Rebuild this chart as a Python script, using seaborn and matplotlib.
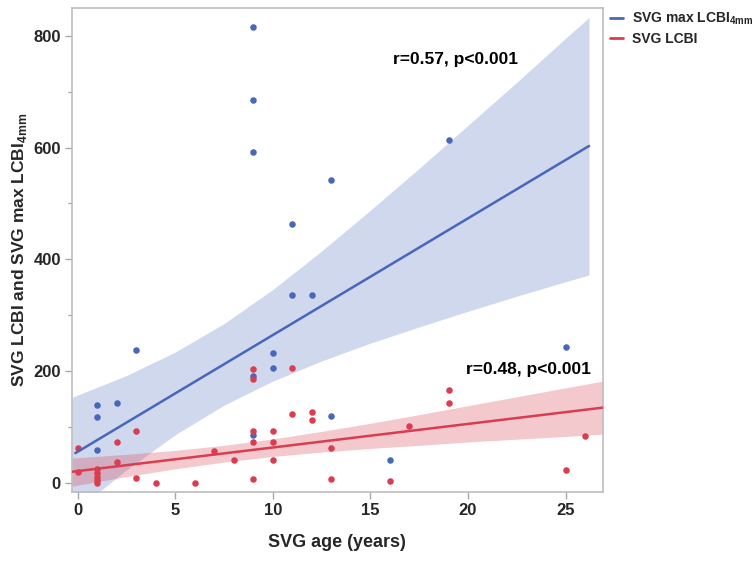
import numpy as np
import pandas as pd
import matplotlib
matplotlib.use("Agg")
import matplotlib.pyplot as plt
from matplotlib.ticker import MultipleLocator
from matplotlib.lines import Line2D
import seaborn as sns

# ---------------- data ----------------
blue_age = [9, 9, 9, 19, 13, 11, 11, 12, 3, 10, 10, 9, 25, 1, 1, 2, 1, 13, 9, 16]
blue_val = [816, 685, 592, 614, 542, 463, 337, 336, 238, 232, 206, 191, 243, 140, 117, 143, 59, 120, 85, 41]

red_age = [0, 0, 1, 1, 1, 1, 1, 2, 2, 3, 3, 4, 6, 7, 8,
           9, 9, 9, 9, 9, 10, 10, 10, 11, 11, 12, 12, 13, 13,
           16, 17, 19, 19, 25, 26]
red_val = [63, 20, 25, 17, 11, 5, 0, 73, 37, 93, 8, 0, 0, 57, 41,
           203, 186, 93, 73, 6, 93, 73, 41, 205, 123, 127, 113, 63, 6,
           4, 101, 166, 143, 23, 83]

# fitted lines (read at their ends)
blue_fit_x = [-0.12, 26.2]
blue_fit_y = [53, 603]
red_fit_x = [-0.29, 26.9]
red_fit_y = [19.7, 134.5]

# confidence bands (read at several ages)
blue_band_x = [-0.29, 2.5, 5, 7.5, 10, 12.5, 15, 17.5, 20, 22.5, 25, 26.2]
blue_band_lo = [-55, 23, 86, 139, 182, 218, 250, 279, 307, 334, 360, 372]
blue_band_hi = [153, 192, 234, 285, 346, 415, 488, 563, 640, 717, 796, 833]

red_band_x = [-0.29, 2.5, 5, 7.5, 10, 12.5, 15, 17.5, 20, 22.5, 25, 26.9]
red_band_lo = [-6, 11, 25, 37, 47, 55, 61.5, 67, 73, 78, 83, 87]
red_band_hi = [44, 51, 58, 67, 78.5, 92, 106.5, 122, 138, 154, 170, 182]

annot_texts = ["r=0.57, p<0.001", "r=0.48, p<0.001"]
annot_x = [16.15, 19.9]
annot_y = [757, 203]

series_names = ["SVG max LCBI$_{\\mathregular{4mm}}$", "SVG LCBI"]

BLUE = "#4767BA"
RED = "#D93D4F"

# ---------------- plotting ----------------
sns.set_style("white")
plt.rcParams["font.family"] = ["Liberation Sans", "DejaVu Sans"]
plt.rcParams["font.weight"] = "bold"

fig = plt.figure(figsize=(7.54, 5.62), dpi=100)
ax = fig.add_axes([72 / 754, 1 - 491.7 / 562, (602.7 - 72) / 754, (491.7 - 8) / 562])

ax.fill_between(blue_band_x, blue_band_lo, blue_band_hi, color=BLUE, alpha=0.25, linewidth=0, zorder=1)
ax.fill_between(red_band_x, red_band_lo, red_band_hi, color=RED, alpha=0.28, linewidth=0, zorder=1.1)

blue_df = pd.DataFrame({"age": blue_age, "val": blue_val})
red_df = pd.DataFrame({"age": red_age, "val": red_val})
sns.scatterplot(data=blue_df, x="age", y="val", color=BLUE, s=22, linewidth=0, ax=ax, zorder=3)
sns.scatterplot(data=red_df, x="age", y="val", color=RED, s=22, linewidth=0, ax=ax, zorder=3.1)

sns.lineplot(x=blue_fit_x, y=blue_fit_y, color=BLUE, linewidth=1.8, ax=ax, zorder=4)
sns.lineplot(x=red_fit_x, y=red_fit_y, color=RED, linewidth=1.8, ax=ax, zorder=4)

for t, x, y in zip(annot_texts, annot_x, annot_y):
    ax.text(x, y, t, ha="left", va="center", fontsize=12.5, fontweight="bold", color="black")

ax.set_xlim(-0.29, 26.9)
ax.set_ylim(-16, 850)
ax.set_xticks([0, 5, 10, 15, 20, 25])
ax.set_yticks([0, 200, 400, 600, 800])
ax.yaxis.set_minor_locator(MultipleLocator(100))

ax.tick_params(axis="both", which="major", direction="out", length=5, width=1, color="#A8A8A8",
               labelsize=12, pad=3, left=True, bottom=True)
ax.tick_params(axis="y", which="minor", direction="out", length=3, width=1, color="#A8A8A8", left=True)
for lab in ax.get_xticklabels() + ax.get_yticklabels():
    lab.set_fontweight("bold")

for sp in ax.spines.values():
    sp.set_color("#BDBDBD")
    sp.set_linewidth(1.2)

ax.set_xlabel("SVG age (years)", fontsize=13, fontweight="bold", labelpad=12)
ax.set_ylabel("SVG LCBI and SVG max LCBI$_{\\mathregular{4mm}}$", fontsize=12.5, fontweight="bold", labelpad=3)

handles = [Line2D([0], [0], color=BLUE, lw=2), Line2D([0], [0], color=RED, lw=2)]
fig.legend(handles, series_names, loc="upper left", bbox_to_anchor=(610 / 754, 1 - 11 / 562),
           frameon=False, prop={"weight": "bold", "size": 10},
           handlelength=0.9, handletextpad=0.7, labelspacing=0.3, borderpad=0, borderaxespad=0)

fig.savefig("out.png", dpi=100)
